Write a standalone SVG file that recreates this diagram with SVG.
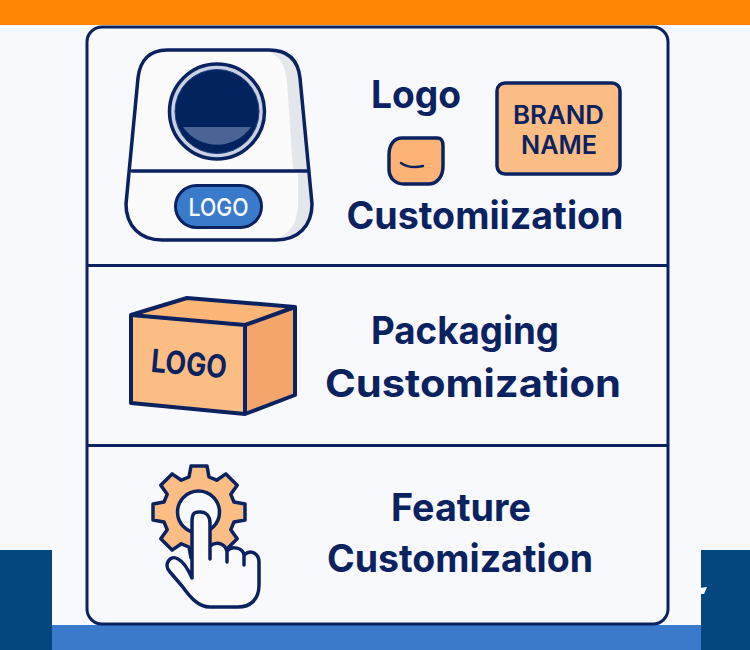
<svg xmlns="http://www.w3.org/2000/svg" width="750" height="650" viewBox="0 0 750 650">
<style>
.n{fill:none;stroke:#0a2260;stroke-linejoin:round;stroke-linecap:round}
.t{font-family:"Inter","Noto Sans",sans-serif;font-weight:700;fill:#0a2260;text-anchor:middle}
.m{font-family:"Inter","Noto Sans",sans-serif;font-weight:600;fill:#0a2260;text-anchor:middle}
</style>
<rect width="750" height="650" fill="#f8f9fd"/>
<g id="background">
<rect width="750" height="25" fill="#ff8605"/>
<rect x="51" y="625" width="650" height="25" fill="#3a7aca"/>
<rect x="0" y="550" width="52" height="100" fill="#02487f"/>
<rect x="701" y="550" width="49" height="100" fill="#02487f"/>
<path d="M700 588L707 587L704 594L701 594Z" fill="#fff"/>
</g>
<g id="panel">
<rect x="87" y="27" width="581" height="597" rx="15" fill="#f8f9fd" stroke="#0a2260" stroke-width="3"/>
<path class="n" stroke-width="3" d="M88 265.500H667M88 445.500H667"/>
</g>
<g id="device">
<path d="M167 50H269C288 50 298 60 300 78L312 204C312 226 298 240 276 240H162C140 240 126 226 126 204L138 78C140 60 150 50 167 50Z" fill="#fcfbfb"/>
<path d="M268 51C281 56 286 68 287 82L293 170H298L298 204C298 222 290 234 276 239C298 240 312 226 312 204L300 78C298 60 288 50 268 51Z" fill="#e3e7ec"/>
<path class="n" stroke-width="3.500" d="M167 50H269C288 50 298 60 300 78L312 204C312 226 298 240 276 240H162C140 240 126 226 126 204L138 78C140 60 150 50 167 50Z"/>
<path class="n" stroke-width="3.500" d="M132 171H307"/>
<circle cx="217" cy="111.500" r="47.500" fill="#c9d2e3" stroke="#0a2260" stroke-width="3.500"/>
<circle cx="217" cy="111.500" r="42" fill="#03235f" stroke="#1f3f7c" stroke-width="1"/>
<path d="M183 127H251A41.500 41.500 0 0 1 183 127Z" fill="#4a6495"/>
<rect x="175.500" y="185.500" width="86" height="42" rx="21" fill="#3a7aca" stroke="#0a2260" stroke-width="3"/>
<text x="218.500" y="215.500" font-size="24" font-family="Inter,'Noto Sans',sans-serif" font-weight="500" fill="#fff" text-anchor="middle" textLength="60" lengthAdjust="spacingAndGlyphs">LOGO</text>
</g>
<g id="logo-label">
<text class="t" x="416" y="108" font-size="38" textLength="90" lengthAdjust="spacingAndGlyphs">Logo</text>
<path d="M402 138H437C441 138 443 140 443 146V166C443 177 437 184 428 184H404C395 184 389 178 389 169V155C389 145 394 138 402 138Z" fill="#fdb375" stroke="#0a2260" stroke-width="3.500"/>
<path class="n" stroke-width="2.500" d="M401 163C407 167 415 168 423 166"/>
<text class="t" x="485" y="229" font-size="38" textLength="277" lengthAdjust="spacingAndGlyphs">Customiization</text>
</g>
<g id="brand-name">
<rect x="497" y="83" width="123" height="91" rx="8" fill="#fcbd84" stroke="#0a2260" stroke-width="3.500"/>
<text class="m" x="558.500" y="124" font-size="26" textLength="91" lengthAdjust="spacingAndGlyphs">BRAND</text>
<text class="m" x="559" y="154" font-size="26" textLength="76" lengthAdjust="spacingAndGlyphs">NAME</text>
</g>
<g id="box">
<path d="M131 315L187 298L295 307L245 325Z" fill="#fdb677"/>
<path d="M131 315L245 325V414L131 403Z" fill="#fcbd84"/>
<path d="M245 325L295 307V395L245 414Z" fill="#f2a66c"/>
<path class="n" stroke-width="4" d="M131 315L187 298L295 307L245 325ZM131 315V403L245 414V325M245 414L295 395V307"/>
<text class="t" transform="translate(188 375) rotate(5)" font-size="32" textLength="76" lengthAdjust="spacingAndGlyphs">LOGO</text>
</g>
<g id="packaging-label">
<text class="t" x="465" y="344" font-size="38" textLength="188" lengthAdjust="spacingAndGlyphs">Packaging</text>
<text class="t" x="473" y="397" font-size="38" textLength="296" lengthAdjust="spacingAndGlyphs">Customization</text>
</g>
<g id="gear-hand">
<path transform="translate(0 2)" d="M189 475L191 464H207L209 475L216.700 478.200L225.900 471.900L237.200 483.200L230.800 492.300L234 500L245 502V518L234 520L230.800 527.700L237.200 536.800L225.900 548.100L216.700 541.800L209 545L207 556H191L189 545L181.300 541.800L172.100 548.100L160.800 536.800L167.200 527.700L164 520L153 518V502L164 500L167.200 492.300L160.800 483.200L172.100 471.900L181.300 478.200Z" fill="#fcbd84" stroke="#0a2260" stroke-width="3.500" stroke-linejoin="round"/>
<circle cx="198.500" cy="512" r="21" fill="#f8f9fd" stroke="#0a2260" stroke-width="3.500"/>
<path d="M192 522C192 511 196 512 200 512C206 512 210 516 210 523V546C218 540 226 545 227 551C232 545 243 548 244 555C252 548 259 555 259 562V585C259 600 250 607 238 607H210C198 607 190 597 182 586L170 572C163 565 170 554 178 559C184 562 188 569 192 578Z" fill="#fbfbfd"/>
<path class="n" stroke-width="3.500" d="M192 578V522C192 511 196 512 200 512C206 512 210 516 210 523V559M210 546C218 540 226 545 227 552V562M227 551C232 545 243 548 244 555V565M244 555C252 548 259 555 259 562V585C259 600 250 607 238 607H210C198 607 190 597 182 586L170 572C163 565 170 554 178 559C184 562 188 569 192 578"/>
</g>
<g id="feature-label">
<text class="t" x="461" y="521" font-size="38" textLength="140" lengthAdjust="spacingAndGlyphs">Feature</text>
<text class="t" x="460" y="572" font-size="38" textLength="266" lengthAdjust="spacingAndGlyphs">Customization</text>
</g>
<g id="connectors"></g>
</svg>
